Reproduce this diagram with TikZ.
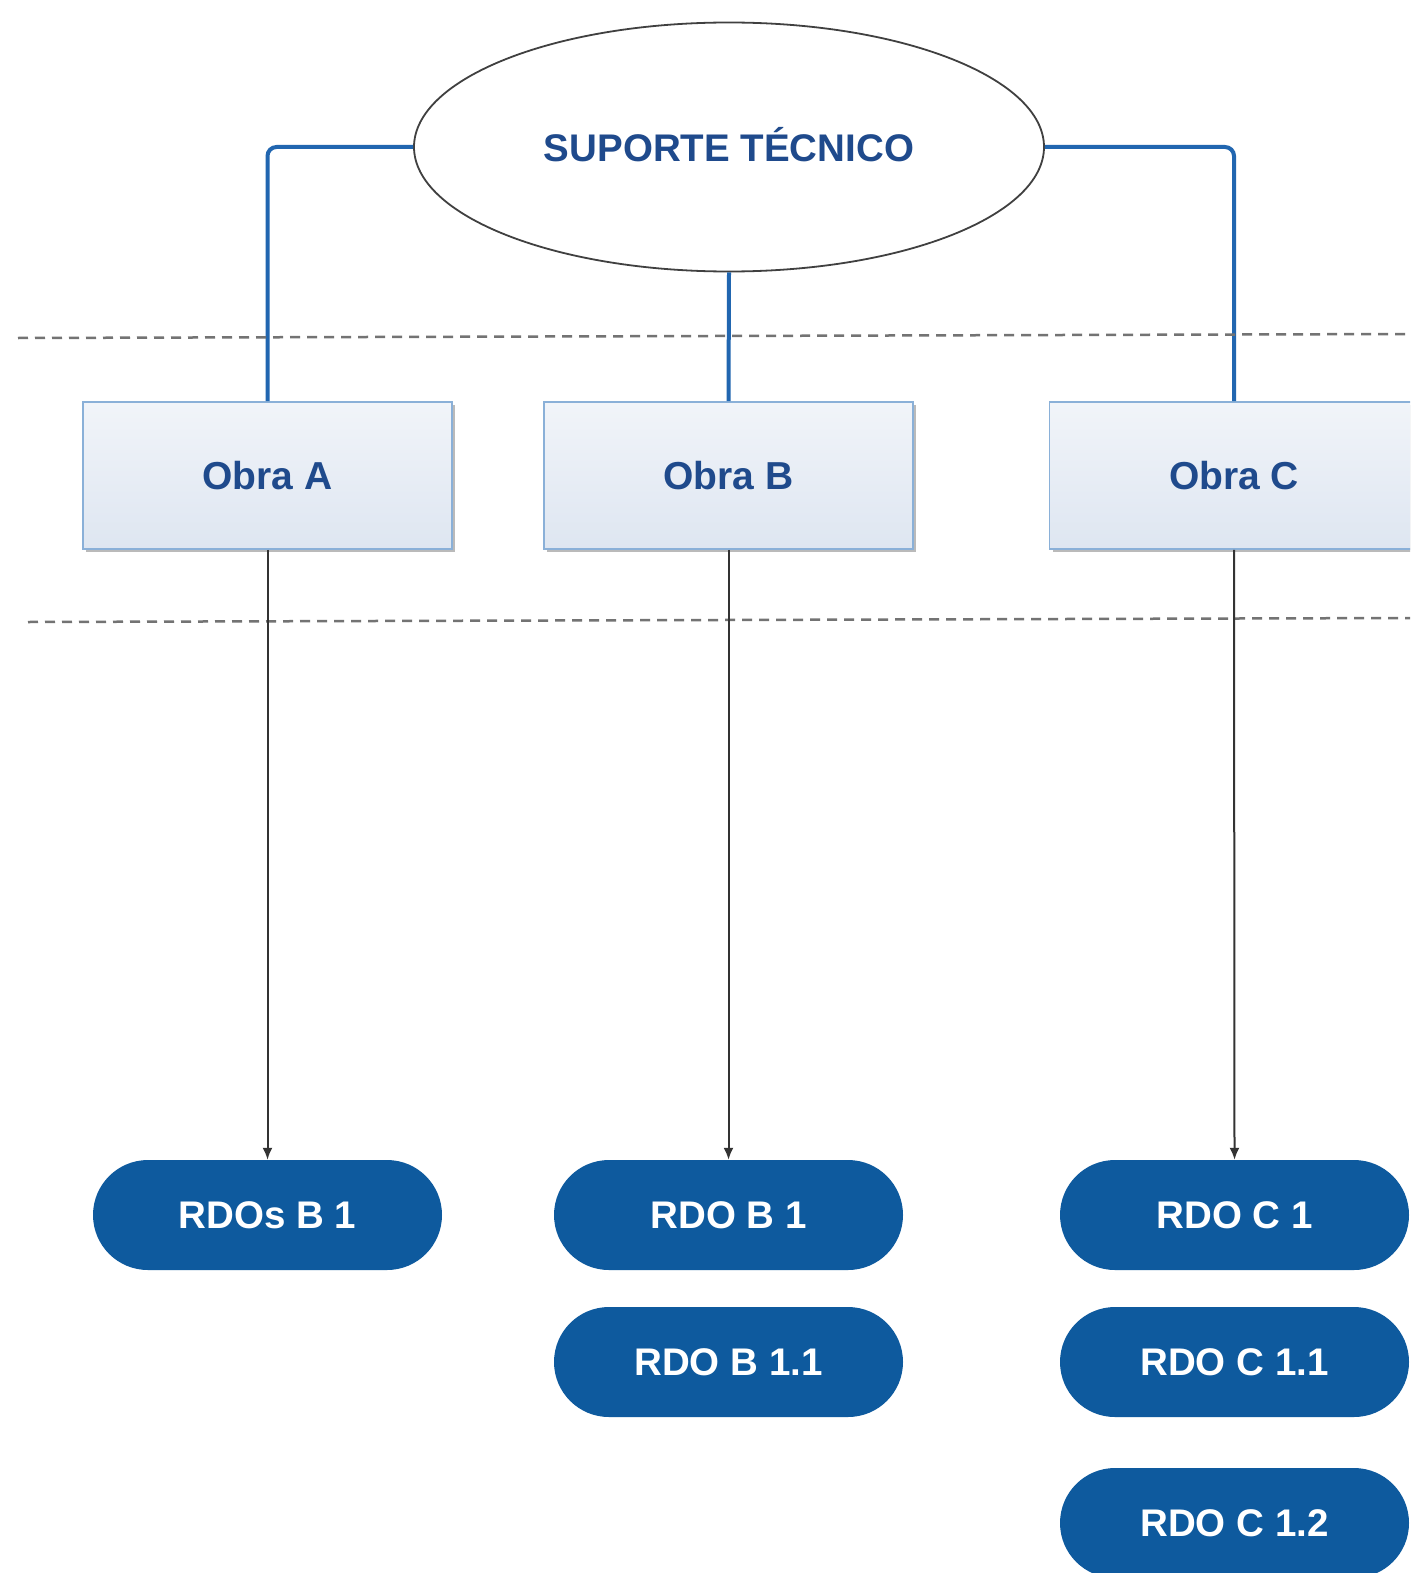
\documentclass[tikz,border=0pt]{standalone}
\usepackage{fontspec}
\setmainfont{Liberation Sans}
\usetikzlibrary{arrows.meta,shapes.geometric,shadows}
\definecolor{txtblue}{HTML}{1F4A8C}
\definecolor{connblue}{HTML}{2166B0}
\definecolor{pillblue}{HTML}{0E5A9E}
\definecolor{boxedge}{HTML}{8AB0D8}
\definecolor{boxtop}{HTML}{F1F4F9}
\definecolor{boxbot}{HTML}{DEE6F1}
\begin{document}
\begin{tikzpicture}[x=1pt,y=-1pt,
  topell/.style={ellipse,draw=black!75,line width=1.8pt,fill=white,minimum width=630pt,minimum height=249pt,inner sep=0pt,
    font=\fontsize{38.5}{46}\selectfont\bfseries,text=txtblue},
  obrabox/.style={rectangle,draw=boxedge,line width=1.8pt,top color=boxtop,bottom color=boxbot,
    minimum width=369pt,minimum height=147pt,inner sep=0pt,
    drop shadow={shadow xshift=3pt,shadow yshift=-3pt,fill=black!45,opacity=0.6},
    font=\fontsize{39}{47}\selectfont\bfseries,text=txtblue},
  pill/.style={rectangle,rounded corners=55pt,fill=pillblue,draw=none,minimum width=349pt,minimum height=110pt,inner sep=0pt,
    font=\fontsize{38.5}{46}\selectfont\bfseries,text=white},
  conn/.style={draw=connblue,line width=4pt,rounded corners=9pt},
  arr/.style={draw=black!80,line width=2pt,-{Latex[length=12pt,width=10pt]}},
  sep/.style={draw=black!55,line width=2.5pt,dash pattern=on 10pt off 7pt}
]
\useasboundingbox (0,0) rectangle (1410,1573);
\clip (0,0) rectangle (1410,1573);
\fill[white] (0,0) rectangle (1410,1573);

\coordinate (d1a) at (18,338);
\coordinate (d1b) at (1410,334);
\coordinate (d2a) at (28,622);
\coordinate (d2b) at (1410,618);

\node[topell] (top) at (729,147) {\raisebox{5pt}{SUPORTE TÉCNICO}};

\node[obrabox] (oa) at (267.5,475.5) {Obra A};
\node[obrabox] (ob) at (728.5,475.5) {Obra B};
\node[obrabox] (oc) at (1234,475.5) {Obra C};

\draw[conn] (top.west) -| (oa.north);
\draw[conn] (top.east) -| (oc.north);
\draw[conn] (top.south) -- (ob.north);

\draw[sep] (d1a) -- (d1b);
\draw[sep] (d2a) -- (d2b);

\node[pill] (pa) at (267.5,1215) {RDOs B 1};
\node[pill] (pb1) at (728.5,1215) {RDO B 1};
\node[pill] (pb2) at (728.5,1362) {RDO B 1.1};
\node[pill] (pc1) at (1234.5,1215) {RDO C 1};
\node[pill] (pc2) at (1234.5,1362) {RDO C 1.1};
\node[pill] (pc3) at (1234.5,1523) {RDO C 1.2};

\draw[arr] (oa.south) -- (pa.north);
\draw[arr] (ob.south) -- (pb1.north);
\draw[arr] (oc.south) -- (pc1.north);
\end{tikzpicture}
\end{document}
